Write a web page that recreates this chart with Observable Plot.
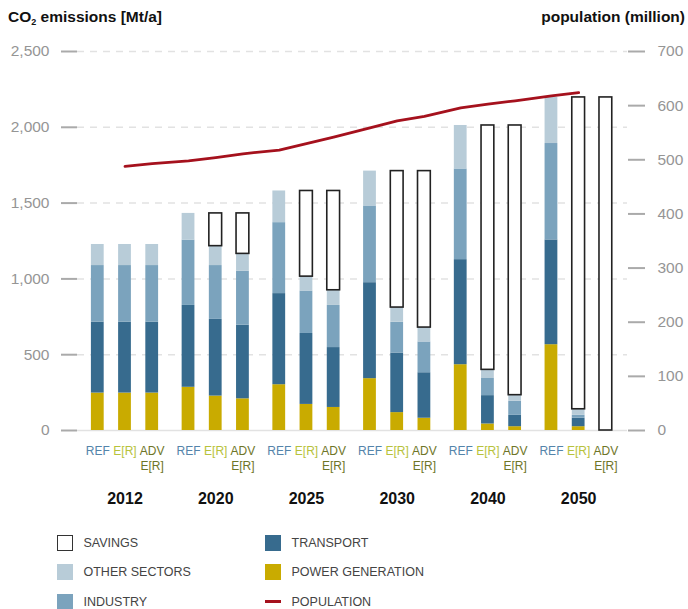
<!DOCTYPE html>
<html><head><meta charset="utf-8">
<script src="https://cdn.jsdelivr.net/npm/d3@7"></script>
<script src="https://cdn.jsdelivr.net/npm/@observablehq/plot@0.6"></script>
<style>
body{margin:0;background:#fff;font-family:"Liberation Sans",Arial,sans-serif;}
#wrap{position:relative;width:688px;height:609px;overflow:hidden;}
#chart{position:absolute;left:0;top:0;}
.title{position:absolute;top:8px;font-weight:bold;font-size:15.5px;color:#111;white-space:nowrap;}
.title sub{font-size:9px;vertical-align:-3px;}
.lg{position:absolute;font-size:12.5px;color:#444;white-space:nowrap;line-height:16px;}
.sw{position:absolute;width:16px;height:16px;box-sizing:border-box;}
</style></head><body>
<div id="wrap">
<div id="chart"></div>
<div class="title" style="left:8px">CO<sub>2</sub> emissions [Mt/a]</div>
<div class="title" style="right:3px">population (million)</div>
<div id="legend"></div>
</div>
<script>
// ---- data (Mt/a), order per year: REF, E[R], ADV E[R] ----
const years = ["2012", "2020", "2025", "2030", "2040", "2050"];
const scenarios = ["REF", "E[R]", "ADV"];
const powerGeneration = [247,247,247, 285,227,209, 302,172,152, 342,118,81, 434,43,25, 566,25,0];
const transport       = [468,468,468, 540,506,486, 601,468,395, 633,393,300, 693,187,75, 691,56,0];
const industry        = [373,373,373, 431,355,355, 468,280,278, 506,203,203, 598,113,93, 636,19,0];
const otherSectors    = [139,139,139, 176,128,115, 209,95,100, 230,97,95, 287,57,40, 304,40,0];
// population (million), sampled at each bar position (line starts at 2012 E[R])
const population      = [null,488,493, 498,504,511, 518,530,542, 559,572,580, 596,603,609, 618,624,null];
const leftTicks = [0, 500, 1000, 1500, 2000, 2500];
const rightTicks = [0, 100, 200, 300, 400, 500, 600, 700];

const colors = {
  power: "#c9ab00", transport: "#376b8e", industry: "#7ba3bd", other: "#b8ccd8",
  pop: "#a5111d", REF: "#5484aa", "E[R]": "#b7c23b", ADV: "#6e7527"
};
const popScale = 2500 / 700;
const groupPitch = 3.335, barHalf = 0.235;

const rows = powerGeneration.map((_, i) => {
  const g = Math.floor(i / 3), b = i % 3;
  return {i, g, b, year: years[g], scen: scenarios[b], pos: g * groupPitch + b,
    power: powerGeneration[i], transport: transport[i], industry: industry[i], other: otherSectors[i],
    pop: population[i]};
});
const segs = [];
for (const r of rows) {
  let acc = 0;
  for (const k of ["power", "transport", "industry", "other"]) {
    segs.push({pos: r.pos, key: k, y1: acc, y2: acc + r[k]});
    acc += r[k];
  }
  r.total = acc;
}
const savings = rows.filter(r => r.b > 0).map(r => {
  const ref = rows[r.g * 3];
  return {pos: r.pos, y1: r.total, y2: ref.total};
});

const plot = Plot.plot({
  width: 688, height: 520,
  marginLeft: 77, marginRight: 61, marginTop: 51, marginBottom: 90,
  style: {fontFamily: "'Liberation Sans', Arial, sans-serif", fontSize: "15.5px", background: "#fff"},
  x: {domain: [-0.746, 19.47], axis: null},
  y: {domain: [0, 2500], axis: null},
  marks: [
    Plot.ruleY(leftTicks.filter(d => d > 0), {stroke: "#e2e2e2", strokeWidth: 1.5, strokeDasharray: "7,6"}),
    Plot.ruleY([0], {stroke: "#e2e2e2", strokeWidth: 1.5}),
    Plot.axisY({anchor: "left", ticks: leftTicks, tickFormat: d3.format(","), tickSize: 16, tickPadding: 12,
      stroke: "#aaa", strokeWidth: 2, fill: "#959595"}),
    Plot.axisY({anchor: "right", ticks: rightTicks.map(v => v * popScale), tickFormat: d => Math.round(d / popScale),
      tickSize: 17, tickPadding: 13, stroke: "#aaa", strokeWidth: 2, fill: "#959595"}),
    Plot.rect(segs, {x1: d => d.pos - barHalf, x2: d => d.pos + barHalf, y1: "y1", y2: "y2",
      fill: d => colors[d.key]}),
    Plot.rect(savings, {x1: d => d.pos - barHalf, x2: d => d.pos + barHalf, y1: "y1", y2: "y2",
      fill: "#fff", stroke: "#222", strokeWidth: 1.6}),
    Plot.line(rows.filter(r => r.pop != null), {x: "pos", y: d => d.pop * popScale,
      stroke: colors.pop, strokeWidth: 2.8, strokeLinejoin: "round"}),
    Plot.text(rows, {x: "pos", text: "scen", frameAnchor: "bottom", dy: 21, lineAnchor: "middle",
      fill: d => colors[d.scen], fontSize: 12}),
    Plot.text(rows.filter(r => r.b === 2), {x: "pos", text: () => "E[R]", frameAnchor: "bottom", dy: 36,
      lineAnchor: "middle", fill: colors.ADV, fontSize: 12}),
    Plot.text(rows.filter(r => r.b === 1), {x: "pos", text: "year", frameAnchor: "bottom", dy: 68,
      lineAnchor: "middle", fill: "#111", fontSize: 16, fontWeight: "bold"})
  ]
});
document.getElementById("chart").appendChild(plot);

// ---- legend ----
const legendItems = [
  {label: "SAVINGS", col: 0, row: 0, type: "savings"},
  {label: "OTHER SECTORS", col: 0, row: 1, color: colors.other},
  {label: "INDUSTRY", col: 0, row: 2, color: colors.industry},
  {label: "TRANSPORT", col: 1, row: 0, color: colors.transport},
  {label: "POWER GENERATION", col: 1, row: 1, color: colors.power},
  {label: "POPULATION", col: 1, row: 2, type: "line"}
];
const lg = document.getElementById("legend");
for (const it of legendItems) {
  const cx = it.col ? 265 : 57;
  const cy = 542.7 + it.row * 29.5;
  const sw = document.createElement("div");
  sw.className = "sw";
  sw.style.left = cx + "px";
  if (it.type === "savings") {
    sw.style.top = (cy - 8) + "px";
    sw.style.border = "1.6px solid #333";
    sw.style.background = "#fff";
  } else if (it.type === "line") {
    sw.style.top = (cy - 1.5) + "px";
    sw.style.height = "3px";
    sw.style.background = colors.pop;
  } else {
    sw.style.top = (cy - 8) + "px";
    sw.style.background = it.color;
  }
  lg.appendChild(sw);
  const t = document.createElement("div");
  t.className = "lg";
  t.textContent = it.label;
  t.style.left = (cx + 26.5) + "px";
  t.style.top = (cy - 8) + "px";
  lg.appendChild(t);
}
</script>
</body></html>
